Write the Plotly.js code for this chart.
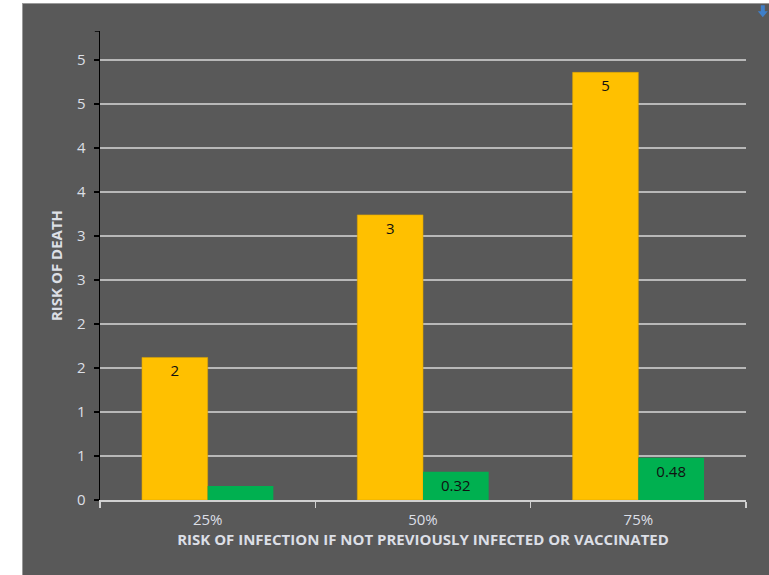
<!DOCTYPE html>
<html>
<head>
<meta charset="utf-8">
<script src="https://cdn.plot.ly/plotly-3.0.1.min.js"></script>
<style>
  html, body { margin: 0; padding: 0; background: #ffffff; }
  #wrap { position: absolute; left: 22px; top: 3px; width: 747px; height: 572px;
          border-left: 1px solid #9a9a9a; border-top: 1px solid #9a9a9a; box-sizing: border-box; background: #595959; }
  #chart { width: 746px; height: 571px; }
</style>
</head>
<body>
<div id="wrap"><div id="chart"></div></div>
<script>
// Data
const categories = ['25%', '50%', '75%'];
const riskNotVaccinated = [1.62, 3.24, 4.86];
const riskVaccinated = [0.16, 0.32, 0.48];
const labelsNotVaccinated = ['2', '3', '5'];
const labelsVaccinated = ['', '0.32', '0.48'];
const yTickValues = [0, 0.5, 1, 1.5, 2, 2.5, 3, 3.5, 4, 4.5, 5];
const yTickLabels = ['0', '1', '1', '2', '2', '3', '3', '4', '4', '5', '5'];
const yMax = 5.33;

const textColor = '#dcdfe6';
const fontFam = '"Open Sans", "Liberation Sans", sans-serif';

const traces = [
  {
    type: 'bar', x: categories, y: riskNotVaccinated,
    text: labelsNotVaccinated, textposition: 'inside', insidetextanchor: 'end',
    textfont: { color: '#111111', size: 15, family: fontFam },
    marker: { color: '#FFC000', line: { color: '#dba400', width: 0.6 } },
    hoverinfo: 'x+y', showlegend: false
  },
  {
    type: 'bar', x: categories, y: riskVaccinated,
    text: labelsVaccinated, textposition: 'inside', insidetextanchor: 'end',
    textfont: { color: '#111111', size: 15, family: fontFam },
    marker: { color: '#00B050' },
    hoverinfo: 'x+y', showlegend: false
  }
];

const layout = {
  width: 746, height: 571,
  paper_bgcolor: '#595959', plot_bgcolor: '#595959',
  margin: { l: 77, r: 23, t: 27, b: 75 },
  barmode: 'group', bargap: 0.39, bargroupgap: 0,
  font: { family: fontFam, color: textColor, size: 15 },
  xaxis: {
    type: 'category',
    showline: true, linecolor: '#d0d0d0', linewidth: 2,
    ticks: 'outside', tickson: 'boundaries', ticklen: 6, tickcolor: '#d0d0d0', tickwidth: 1.5,
    showgrid: false, zeroline: false,
    tickfont: { color: textColor, size: 15, family: fontFam },
    ticklabelstandoff: 5,
    title: { text: 'RISK OF INFECTION IF NOT PREVIOUSLY INFECTED OR VACCINATED',
             font: { color: textColor, size: 15, family: fontFam, weight: 'bold' }, standoff: 4 },
    automargin: false
  },
  yaxis: {
    range: [0, yMax], autorange: false,
    tickvals: yTickValues, ticktext: yTickLabels,
    showline: true, linecolor: '#000000', linewidth: 1.5,
    ticks: 'outside', ticklen: 5, tickcolor: '#000000', tickwidth: 1.5,
    showgrid: true, gridcolor: '#b8b8b8', gridwidth: 1.5,
    zeroline: false,
    tickfont: { color: textColor, size: 15, family: fontFam },
    ticklabelstandoff: 5,
    title: { text: 'RISK OF DEATH', font: { color: textColor, size: 15, family: fontFam, weight: 'bold' }, standoff: 10 },
    automargin: false
  },
  shapes: [
    { type: 'line', xref: 'paper', yref: 'y', x0: -0.008, x1: 0, y0: yMax, y1: yMax,
      line: { color: '#000000', width: 1.5 } },
    { type: 'path', xref: 'paper', yref: 'paper', xsizemode: 'pixel', ysizemode: 'pixel',
      xanchor: 1.026, yanchor: 1.042,
      path: 'M -2 6 L 2 6 L 2 0 L 5 0 L 0 -6 L -5 0 L -2 0 Z',
      fillcolor: '#3f7fc9', line: { width: 0 } }
  ]
};

Plotly.newPlot('chart', traces, layout, { displayModeBar: false, staticPlot: true });
</script>
</body>
</html>
